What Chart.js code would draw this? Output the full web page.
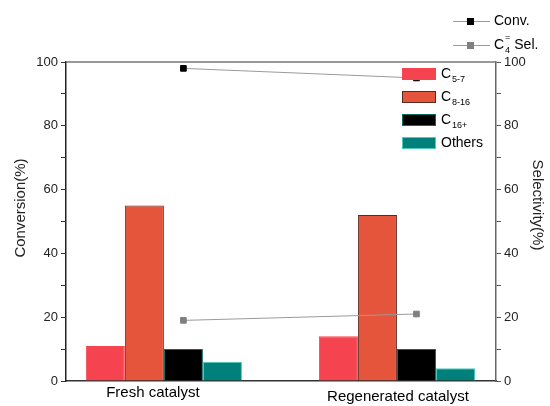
<!DOCTYPE html>
<html>
<head>
<meta charset="utf-8">
<script src="https://cdn.jsdelivr.net/npm/chart.js@4.4.1/dist/chart.umd.min.js"></script>
<style>
  body { margin: 0; background: #fff; }
</style>
</head>
<body>
<canvas id="myChart" width="550" height="406"></canvas>
<script>
// data
const categories = ['Fresh catalyst', 'Regenerated catalyst'];
const barNames = ['C|5-7', 'C|8-16', 'C|16+', 'Others'];   // "|" splits base and subscript
const c57 = [11, 14];
const c816 = [55, 52];
const c16p = [10, 10];
const others = [6, 4];
const conversion = [98, 95];
const selectivity = [19, 21];
const yTicks = [0, 20, 40, 60, 80, 100];

const barColors = ['#f5444f', '#e4553b', '#000000', '#00807a'];
const barBorders = ['#f5444f', '#5a2a20', '#0a6b66', '#4fc9c0'];
const catPct = 0.67;
// points sit on the centre of the 3rd bar of each group
const pointShift = catPct * (2.5 / 4 - 0.5);

const barSeries = [c57, c816, c16p, others];
const datasets = barSeries.map((vals, k) => ({
    type: 'bar',
    label: barNames[k],
    data: vals.map((v, i) => ({ x: i + 1, y: v })),
    backgroundColor: barColors[k],
    borderColor: barBorders[k],
    borderWidth: 1,
    categoryPercentage: catPct,
    barPercentage: 1,
    order: 2
}));
datasets.push({
    type: 'line',
    label: 'Conv.',
    data: conversion.map((v, i) => ({ x: i + 1 + pointShift, y: v })),
    yAxisID: 'y',
    borderColor: '#9a9a9a',
    borderWidth: 1,
    pointStyle: 'rect',
    pointRadius: 4,
    pointBackgroundColor: '#000',
    pointBorderColor: '#000',
    order: 1
});
datasets.push({
    type: 'line',
    label: 'Sel.',
    data: selectivity.map((v, i) => ({ x: i + 1 + pointShift, y: v })),
    yAxisID: 'y2',
    borderColor: '#9a9a9a',
    borderWidth: 1,
    pointStyle: 'rect',
    pointRadius: 4,
    pointBackgroundColor: '#808080',
    pointBorderColor: '#808080',
    order: 1
});

const font = 'Liberation Sans, Arial, sans-serif';

function subText(ctx, x, y, base, sub, sup) {
    ctx.font = '14px ' + font;
    ctx.textBaseline = 'middle';
    ctx.textAlign = 'left';
    ctx.fillText(base, x, y);
    let w = ctx.measureText(base).width;
    ctx.font = '9px ' + font;
    if (sub) ctx.fillText(sub, x + w + 1, y + 6);
    if (sup) ctx.fillText(sup, x + w + 1, y - 7);
    return x + w + 1 + Math.max(sub ? ctx.measureText(sub).width : 0, sup ? ctx.measureText(sup).width : 0);
}

const legendPlugin = {
    id: 'customLegend',
    afterDraw(chart) {
        const ctx = chart.ctx;
        ctx.save();
        ctx.fillStyle = '#000';
        // bar legend inside the plot
        barNames.forEach((n, k) => {
            const y = 74 + k * 23;
            ctx.fillStyle = barColors[k];
            ctx.fillRect(402, y - 6, 34, 12);
            ctx.strokeStyle = barBorders[k];
            ctx.lineWidth = 1;
            ctx.strokeRect(402.5, y - 5.5, 33, 11);
            ctx.fillStyle = '#000';
            const parts = n.split('|');
            subText(ctx, 441, y, parts[0], parts[1] || '', '');
        });
        // line legend above the plot
        const rows = [
            { y: 21, color: '#000', base: 'Conv.', sub: '', sup: '', rest: '' },
            { y: 45, color: '#808080', base: 'C', sub: '4', sup: '=', rest: ' Sel.' }
        ];
        rows.forEach(r => {
            ctx.strokeStyle = '#9a9a9a';
            ctx.lineWidth = 1;
            ctx.beginPath();
            ctx.moveTo(453, r.y + 0.5);
            ctx.lineTo(490, r.y + 0.5);
            ctx.stroke();
            ctx.fillStyle = r.color;
            ctx.fillRect(467, r.y - 3, 7, 7);
            ctx.fillStyle = '#000';
            let x = subText(ctx, 494, r.y, r.base, r.sub, r.sup);
            if (r.rest) {
                ctx.font = '14px ' + font;
                ctx.fillText(r.rest, x, r.y);
            }
        });
        // top frame line
        const a = chart.chartArea;
        ctx.strokeStyle = '#777';
        ctx.lineWidth = 1.5;
        ctx.beginPath();
        ctx.moveTo(a.left, a.top);
        ctx.lineTo(a.right, a.top);
        ctx.stroke();

        // category labels under the groups
        const xs = chart.scales.x;
        const labelShift = [-11, 1];
        const labelY = [393, 397];
        ctx.font = '15px ' + font;
        ctx.fillStyle = '#000';
        ctx.textAlign = 'center';
        ctx.textBaseline = 'middle';
        categories.forEach((c, i) => {
            ctx.fillText(c, xs.getPixelForValue(i + 1) + labelShift[i], labelY[i]);
        });

        // axis titles
        ctx.fillStyle = '#222';
        ctx.save();
        ctx.translate(21, 208);
        ctx.rotate(-Math.PI / 2);
        ctx.fillText('Conversion(%)', 0, 0);
        ctx.restore();
        ctx.save();
        ctx.translate(537, 205);
        ctx.rotate(Math.PI / 2);
        ctx.fillText('Selectivity(%)', 0, 0);
        ctx.restore();
        ctx.restore();
    }
};

const yTickOpts = {
    autoSkip: false,
    color: '#222',
    font: { family: font, size: 13 },
    padding: 3,
    callback: v => (yTicks.includes(v) ? String(v) : '')
};

const ctx = document.getElementById('myChart').getContext('2d');
const chart = new Chart(ctx, {
    type: 'bar',
    data: { datasets: datasets },
    plugins: [legendPlugin],
    options: {
        responsive: false,
        devicePixelRatio: 1,
        animation: false,
        layout: { padding: { top: 62, left: 0, right: 0, bottom: 0 } },
        plugins: { legend: { display: false }, tooltip: { enabled: false } },
        scales: {
            x: {
                type: 'linear',
                offset: false,
                min: 0.58,
                max: 2.425,
                afterBuildTicks: s => { s.ticks = categories.map((c, i) => ({ value: i + 1 })); },
                afterFit: s => { s.height = 25; },
                grid: { display: false },
                border: { color: '#333', width: 1.5 },
                ticks: { display: false }
            },
            y: {
                position: 'left',
                min: 0,
                max: 100,
                afterBuildTicks: s => { s.ticks = Array.from({ length: 11 }, (_, i) => ({ value: i * 10 })); },
                afterFit: s => { s.width = 66; },
                grid: { drawOnChartArea: false, tickLength: 5, color: '#333' },
                border: { color: '#222', width: 1.5 },
                ticks: yTickOpts
            },
            y2: {
                position: 'right',
                min: 0,
                max: 100,
                afterBuildTicks: s => { s.ticks = Array.from({ length: 11 }, (_, i) => ({ value: i * 10 })); },
                afterFit: s => { s.width = 54; },
                grid: { drawOnChartArea: false, tickLength: 5, color: '#555' },
                border: { color: '#666', width: 1.5 },
                ticks: yTickOpts
            }
        }
    }
});
</script>
</body>
</html>
